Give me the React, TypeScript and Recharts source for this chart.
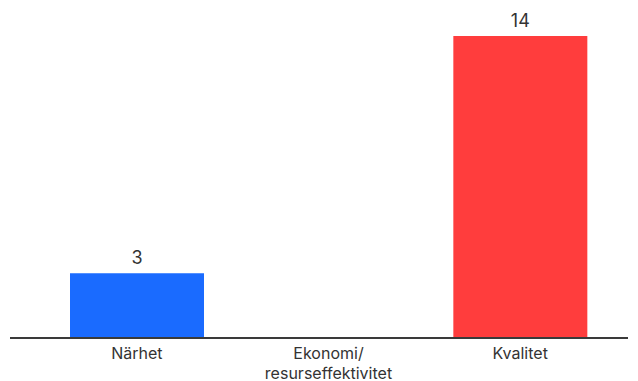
import React from 'react';
import { BarChart, Bar, XAxis, YAxis, Cell, LabelList } from 'recharts';

const categories = ['Närhet', 'Ekonomi/resurseffektivitet', 'Kvalitet'];
const counts = [3, 0, 14];
const barColors = ['#1a6bff', '#ff3d3d', '#ff3d3d'];

const data = categories.map((name, i) => ({ name, value: counts[i] }));

// split long category names after the slash, like the reference
function CategoryTick({ x, y, payload }: any) {
  const text: string = payload.value;
  const idx = text.indexOf('/');
  const lines = idx >= 0 ? [text.slice(0, idx + 1), text.slice(idx + 1)] : [text];
  return (
    <text x={x} y={y} textAnchor="middle" fill="#333" fontSize={16}>
      {lines.map((line, i) => (
        <tspan key={i} x={x} dy={i === 0 ? 13 : 19.5}>
          {line}
        </tspan>
      ))}
    </text>
  );
}

export default function App() {
  return (
    <div style={{ position: 'absolute', left: 0, top: 0, fontFamily: 'Inter, sans-serif' }}>
      <BarChart
        width={638}
        height={381}
        data={data}
        margin={{ top: 36, right: 10, bottom: 0, left: 10 }}
      >
        <YAxis hide domain={[0, 14]} />
        <XAxis
          dataKey="name"
          interval={0}
          height={43}
          padding={{ left: 31, right: 12 }}
          tickLine={false}
          axisLine={{ stroke: '#3a3a3a', strokeWidth: 2 }}
          tick={<CategoryTick />}
        />
        <Bar dataKey="value" barSize={134} isAnimationActive={false}>
          {data.map((d, i) => (
            <Cell key={d.name} fill={barColors[i]} />
          ))}
          <LabelList
            dataKey="value"
            position="top"
            offset={9}
            fill="#333"
            fontSize={18}
            formatter={(v: any) => (v ? v : '')}
          />
        </Bar>
      </BarChart>
    </div>
  );
}
